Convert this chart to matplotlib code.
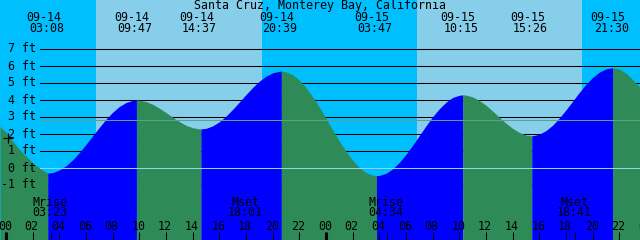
import matplotlib
matplotlib.use('Agg')
import matplotlib.pyplot as plt

# tide height: hours since 09-14 00:00, feet
hours = [-0.45, 0, 0.5, 1, 1.5, 2, 2.5, 3, 3.133,
         3.5, 4, 4.5, 5, 5.5, 6, 6.5, 7, 7.5, 8, 8.5, 9, 9.5, 9.783,
         10, 10.5, 11, 11.5, 12, 12.5, 13, 13.5, 14, 14.5, 14.617,
         15, 15.5, 16, 16.5, 17, 17.5, 18, 18.5, 19, 19.5, 20, 20.5, 20.65,
         21, 21.5, 22, 22.5, 23, 23.5, 24, 24.5, 25, 25.5, 26, 26.5, 27, 27.5, 27.783,
         28, 28.5, 29, 29.5, 30, 30.5, 31, 31.5, 32, 32.5, 33, 33.5, 34, 34.25,
         34.5, 35, 35.5, 36, 36.5, 37, 37.5, 38, 38.5, 39, 39.433,
         39.5, 40, 40.5, 41, 41.5, 42, 42.5, 43, 43.5, 44, 44.5, 45, 45.5,
         46, 46.5, 47, 47.55]
heights = [2.45, 2.1, 1.58, 1.1, 0.7, 0.32, 0.0, -0.24, -0.3,
           -0.27, -0.12, 0.13, 0.48, 0.91, 1.39, 1.89, 2.39, 2.87, 3.28, 3.62, 3.85, 3.98, 4.0,
           3.99, 3.91, 3.75, 3.52, 3.26, 2.99, 2.73, 2.51, 2.37, 2.3, 2.3,
           2.33, 2.48, 2.72, 3.05, 3.45, 3.88, 4.32, 4.74, 5.11, 5.4, 5.6, 5.69, 5.7,
           5.66, 5.49, 5.17, 4.73, 4.19, 3.58, 2.92, 2.24, 1.58, 0.98, 0.45, 0.03, -0.27, -0.43, -0.45,
           -0.44, -0.31, -0.05, 0.33, 0.8, 1.34, 1.91, 2.48, 3.02, 3.49, 3.87, 4.15, 4.28, 4.3,
           4.29, 4.18, 3.97, 3.69, 3.35, 2.98, 2.63, 2.33, 2.09, 1.94, 1.9,
           1.9, 1.99, 2.2, 2.52, 2.94, 3.42, 3.93, 4.45, 4.92, 5.33, 5.64, 5.83, 5.9,
           5.82, 5.58, 5.2, 4.75]

# high / low tides
ext_hours = [3.133, 9.783, 14.617, 20.65, 27.783, 34.25, 39.433, 45.5]
ext_dates = ['09-14', '09-14', '09-14', '09-14', '09-15', '09-15', '09-15', '09-15']
ext_times = ['03:08', '09:47', '14:37', '20:39', '03:47', '10:15', '15:26', '21:30']

# daylight
day_start = [6.75, 30.8]
day_end = [19.175, 43.175]

# moon
moon_hours = [3.383, 18.017, 28.567, 42.683]
moon_names = ['Mrise', 'Mset', 'Mrise', 'Mset']
moon_times = ['03:23', '18:01', '04:34', '18:41']

ft_levels = [-1, 0, 1, 2, 3, 4, 5, 6, 7]
tick_hours = list(range(0, 49, 2))

PXH = 640 / 48.0          # pixels per hour
PXF = 17.0                # pixels per foot
x0, x1 = -6 / PXH, 634 / PXH
def fy(py):               # pixel row -> feet
    return (168 - py) / PXF
def dx(px):               # pixel offset -> hours
    return px / PXH

mono = 'DejaVu Sans Mono'
fs = 8.4

fig = plt.figure(figsize=(6.4, 2.4), dpi=100)
ax = fig.add_axes([0, 0, 1, 1])
ax.set_xlim(x0, x1)
ax.set_ylim(fy(240), fy(0))
ax.axis('off')

ax.axvspan(x0, x1, color='#00BFFF', zorder=0, lw=0)
for a, b in zip(day_start, day_end):
    ax.axvspan(a, b, color='#87CEEB', zorder=0, lw=0)

for f in ft_levels:
    ax.axhline(f, xmin=40 / 640, xmax=1, color='black', lw=0.75, zorder=1)

# water, blue while rising, green while falling
bounds = [hours[0]] + ext_hours + [hours[-1]]
for a, b in zip(bounds[:-1], bounds[1:]):
    xs = [h for h in hours if a <= h <= b]
    ys = [heights[hours.index(h)] for h in xs]
    col = '#0000FF' if ys[-1] > ys[0] else '#2E8B57'
    ax.fill_between(xs, ys, fy(240), color=col, lw=0, zorder=2)

ax.axhline(fy(120), xmin=40 / 640, xmax=1, color='#5FA08C', lw=0.75, zorder=3)
ax.axhline(0, xmin=40 / 640, xmax=1, color='#8FD4F0', lw=0.75, zorder=3)

for f in ft_levels:
    ax.text(dx(36) + x0, f, '%d ft' % f, ha='right', va='center',
            family=mono, fontsize=fs, zorder=4)

ax.plot([0.15], [fy(138)], marker='+', color='black', ms=7, mew=0.9, zorder=4)

ax.text(dx(320) + x0, fy(6), 'Santa Cruz, Monterey Bay, California',
        ha='center', va='center', family=mono, fontsize=fs, zorder=4)
for h, d, t in zip(ext_hours, ext_dates, ext_times):
    ax.text(h - dx(4.5), fy(17.5), d, ha='center', va='center', family=mono, fontsize=fs, zorder=4)
    ax.text(h - dx(1.3), fy(29), t, ha='center', va='center', family=mono, fontsize=fs, zorder=4)

for h, n, t in zip(moon_hours, moon_names, moon_times):
    ax.text(h - dx(1), fy(202.5), n, ha='center', va='center', family=mono, fontsize=fs, zorder=4)
    ax.text(h - dx(1), fy(213), t, ha='center', va='center', family=mono, fontsize=fs, zorder=4)
    ax.vlines(h, fy(232), fy(240), color='black', lw=0.75, zorder=4)

for h in tick_hours:
    ax.text(h - dx(1), fy(226), '%02d' % (h % 24), ha='center', va='center',
            family=mono, fontsize=fs, zorder=4)
    lw = 2.2 if h % 24 == 0 else 0.75
    ax.vlines(h, fy(232), fy(240), color='black', lw=lw, zorder=4)

fig.savefig('out.png', dpi=100)
